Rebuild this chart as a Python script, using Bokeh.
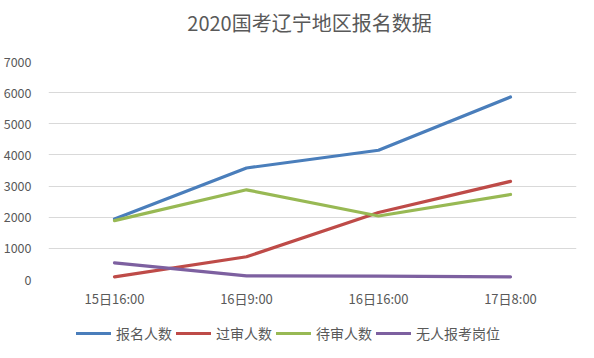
from bokeh.plotting import figure
from bokeh.layouts import column
from bokeh.models import FactorRange, Range1d, Legend, LegendItem, Label
from bokeh.embed import file_html
from bokeh.resources import INLINE

title_text = "2020国考辽宁地区报名数据"
categories = ["15日16:00", "16日9:00", "16日16:00", "17日8:00"]
series_names = ["报名人数", "过审人数", "待审人数", "无人报考岗位"]
reg_total = [1945, 3580, 4150, 5860]
passed = [85, 730, 2150, 3150]
pending = [1890, 2880, 2040, 2730]
no_apply = [535, 115, 110, 85]
colors = ["#4a7ebb", "#be4b48", "#98b954", "#7d60a0"]
y_ticks = [0, 1000, 2000, 3000, 4000, 5000, 6000, 7000]

FONT = "Noto Sans CJK SC"
GRAY = "#595959"
series = [reg_total, passed, pending, no_apply]

# title strip
tf = figure(width=578, height=53, x_range=Range1d(0, 578), y_range=Range1d(0, 53),
            x_axis_location=None, y_axis_location=None, output_backend="svg",
            toolbar_location=None, min_border_left=0, min_border_right=0,
            min_border_top=0, min_border_bottom=0)
tf.grid.visible = False
tf.outline_line_color = None
tf.add_layout(Label(x=289, y=31, text=title_text, text_align="center", text_baseline="middle",
                    text_font=FONT, text_font_size="20px", text_color=GRAY))

# main chart
p = figure(frame_width=528, frame_height=218, x_range=FactorRange(*categories, range_padding=0),
           y_range=Range1d(0, 7000), output_backend="svg", toolbar_location=None,
           min_border_left=42, min_border_right=8, min_border_top=8, min_border_bottom=30)
p.outline_line_color = None
p.background_fill_color = "white"
p.border_fill_color = "white"
p.xgrid.grid_line_color = None
p.ygrid.grid_line_color = "#d9d9d9"
p.ygrid.grid_line_width = 1
p.yaxis.ticker = y_ticks
for ax in (p.xaxis, p.yaxis):
    ax.axis_line_color = None
    ax.major_tick_line_color = None
    ax.minor_tick_line_color = None
    ax.major_label_text_font = FONT
    ax.major_label_text_color = GRAY
p.yaxis.major_label_text_font_size = "12.5px"
p.yaxis.major_label_standoff = 11
p.xaxis.major_label_text_font_size = "13px"
p.xaxis.major_label_standoff = 3

for vals, c in zip(series, colors):
    p.line(x=categories, y=vals, line_color=c, line_width=3.2, line_cap="round", line_join="round")

# legend strip below the chart (its lines lie outside its visible range; only the legend shows)
lf = figure(width=578, height=33, x_range=p.x_range, y_range=Range1d(-2, -1),
            x_axis_location=None, y_axis_location=None,
            output_backend="svg", toolbar_location=None,
            min_border_left=0, min_border_right=0, min_border_top=0, min_border_bottom=0)
lf.grid.visible = False
lf.outline_line_color = None
lf.border_fill_color = "white"
items = []
for name, vals, c in zip(series_names, series, colors):
    r = lf.line(x=categories, y=vals, line_color=c, line_width=3.2, line_cap="round")
    items.append(LegendItem(label=name, renderers=[r]))
legend = Legend(items=items, orientation="horizontal", location=(28, 0),
                glyph_width=35, glyph_height=20, label_standoff=5, spacing=4,
                padding=0, margin=0, border_line_color=None, background_fill_alpha=0,
                label_text_font=FONT, label_text_font_size="14px", label_text_color=GRAY)
lf.add_layout(legend, "center")

layout = column(tf, p, lf, spacing=0)
open("out.html", "w").write(file_html(layout, INLINE))
